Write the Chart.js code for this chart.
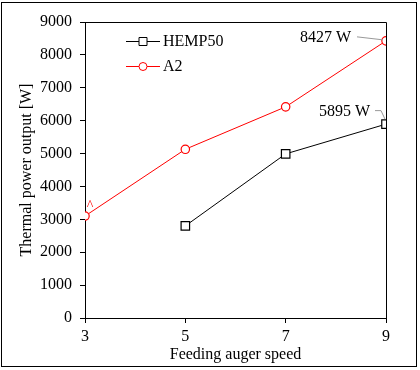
<!DOCTYPE html>
<html>
<head>
<meta charset="utf-8">
<script src="https://cdn.jsdelivr.net/npm/chart.js@4.4.0/dist/chart.umd.min.js"></script>
<style>
  body { margin: 0; background: #fff; }
  #grafico { display: block; }
</style>
</head>
<body>
<canvas id="grafico" width="420" height="370"></canvas>
<script>
// dados
const velocidades = [3, 5, 7, 9];
const a2 = [3100, 5130, 6420, 8427];
const hemp50 = [null, 2800, 4990, 5895];
const ticksX = [3, 5, 7, 9];
const ticksY = [0, 1000, 2000, 3000, 4000, 5000, 6000, 7000, 8000, 9000];

const fonte = "Liberation Serif";
Chart.defaults.font.family = fonte;
Chart.defaults.font.size = 16;
Chart.defaults.color = "#000";

function pontos(valores) {
    return velocidades.map((v, i) => ({ x: v, y: valores[i] }));
}

// moldura, caixa do gráfico, legenda e rótulos
const extras = {
    id: "extras",
    beforeDraw(chart) {
        const ctx = chart.ctx;
        ctx.save();
        ctx.fillStyle = "#fff";
        ctx.fillRect(0, 0, chart.width, chart.height);
        ctx.restore();
    },
    afterDraw(chart) {
        const ctx = chart.ctx;
        const a = chart.chartArea;
        ctx.save();
        ctx.strokeStyle = "#000";
        ctx.lineWidth = 1;
        ctx.strokeRect(1.5, 2.5, 415, 364);
        ctx.beginPath();
        ctx.moveTo(a.left, a.top + 0.5);
        ctx.lineTo(a.right + 0.5, a.top + 0.5);
        ctx.lineTo(a.right + 0.5, a.bottom);
        ctx.stroke();

        // legenda
        const itens = [
            { nome: "HEMP50", cor: "#000", forma: "rect", y: 41 },
            { nome: "A2", cor: "#ff0000", forma: "circle", y: 66 }
        ];
        itens.forEach(it => {
            ctx.strokeStyle = it.cor;
            ctx.lineWidth = 1;
            ctx.beginPath();
            ctx.moveTo(126, it.y + 0.5);
            ctx.lineTo(160, it.y + 0.5);
            ctx.stroke();
            ctx.fillStyle = "#fff";
            ctx.beginPath();
            if (it.forma === "rect") {
                ctx.rect(139, it.y - 3.5, 8, 8);
            } else {
                ctx.arc(143, it.y + 0.5, 4, 0, Math.PI * 2);
            }
            ctx.fill();
            ctx.stroke();
            ctx.fillStyle = "#000";
            ctx.font = "16px 'Liberation Serif'";
            ctx.textAlign = "left";
            ctx.textBaseline = "middle";
            ctx.fillText(it.nome, 163, it.y + 1);
        });

        // rótulos com linhas de chamada
        const sx = chart.scales.x, sy = chart.scales.y;
        const pA = { x: sx.getPixelForValue(9), y: sy.getPixelForValue(a2[3]) };
        const pH = { x: sx.getPixelForValue(9), y: sy.getPixelForValue(hemp50[3]) };
        ctx.strokeStyle = "#999";
        ctx.beginPath();
        ctx.moveTo(pA.x - 29, pA.y - 4);
        ctx.lineTo(pA.x - 3, pA.y - 1);
        ctx.stroke();
        ctx.beginPath();
        ctx.moveTo(pH.x - 11, pH.y - 13.5);
        ctx.lineTo(pH.x - 5, pH.y - 13.5);
        ctx.lineTo(pH.x - 1, pH.y - 5);
        ctx.stroke();
        ctx.fillStyle = "#000";
        ctx.textAlign = "right";
        ctx.fillText(a2[3] + " W", pA.x - 35, pA.y - 3);
        ctx.fillText(hemp50[3] + " W", pH.x - 16, pH.y - 12);

        const p3 = { x: sx.getPixelForValue(3), y: sy.getPixelForValue(a2[0]) };
        ctx.fillStyle = "#ff0000";
        ctx.textAlign = "center";
        ctx.font = "14px 'Liberation Serif'";
        ctx.fillText("^", p3.x + 5, p3.y - 10);
        ctx.restore();
    }
};

new Chart(document.getElementById("grafico"), {
    type: "line",
    data: {
        datasets: [
            {
                label: "HEMP50",
                data: pontos(hemp50),
                borderColor: "#000",
                backgroundColor: "#fff",
                borderWidth: 1,
                pointStyle: "rect",
                pointRadius: 6,
                pointBorderWidth: 1.2,
                pointBorderColor: "#000",
                pointBackgroundColor: "#fff",
                spanGaps: false
            },
            {
                label: "A2",
                data: pontos(a2),
                borderColor: "#ff0000",
                backgroundColor: "#fff",
                borderWidth: 1,
                pointStyle: "circle",
                pointRadius: 4.2,
                pointBorderWidth: 1.2,
                pointBorderColor: "#ff0000",
                pointBackgroundColor: "#fff"
            }
        ]
    },
    options: {
        responsive: false,
        animation: false,
        layout: { padding: { left: 0, top: 22, right: 34, bottom: 0 } },
        plugins: {
            legend: { display: false },
            tooltip: { enabled: false }
        },
        scales: {
            x: {
                type: "linear",
                min: 3,
                max: 9,
                afterFit(s) { s.height = 52; },
                afterBuildTicks(s) { s.ticks = ticksX.map(v => ({ value: v })); },
                grid: { drawOnChartArea: false, color: "#000", tickLength: 5 },
                border: { color: "#000", width: 1 },
                ticks: { padding: 4, color: "#000", font: { family: fonte, size: 16 }, callback: v => String(v) },
                title: {
                    display: true,
                    text: "Feeding auger speed",
                    color: "#000",
                    font: { family: fonte, size: 16 },
                    padding: { top: 0, bottom: 6 }
                }
            },
            y: {
                min: 0,
                max: 9000,
                afterFit(s) { s.width = 85; },
                afterBuildTicks(s) { s.ticks = ticksY.map(v => ({ value: v })); },
                grid: { drawOnChartArea: false, color: "#000", tickLength: 5 },
                border: { color: "#000", width: 1 },
                ticks: { padding: 8, color: "#000", font: { family: fonte, size: 16 }, callback: v => String(v) },
                title: {
                    display: true,
                    text: "Thermal power output [W]",
                    color: "#000",
                    font: { family: fonte, size: 16 },
                    padding: { top: 17, bottom: 0 }
                }
            }
        }
    },
    plugins: [extras]
});
</script>
</body>
</html>
